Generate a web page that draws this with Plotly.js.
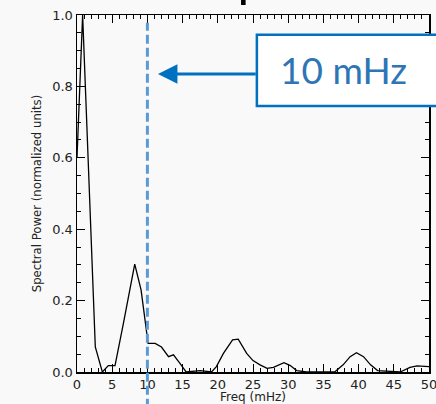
<!DOCTYPE html>
<html>
<head>
<meta charset="utf-8">
<script src="https://cdn.plot.ly/plotly-3.0.1.min.js"></script>
<style>html,body{margin:0;padding:0;background:#f9f9f9;}#chart{width:436px;height:404px;}</style>
</head>
<body>
<div id="chart"></div>
<script>
// Spectral power vs frequency
var freq = [0, 0.8, 2.6, 3.6, 4.45, 5.4, 6.6, 8.2, 9.1, 9.5, 10.1, 11.1, 12.0, 13.0, 13.7, 14.6, 15.5, 17.5, 19.1, 19.8, 20.8, 22.1, 22.9, 24.1, 25.0, 26.0, 27.0, 27.9, 29.4, 30.3, 31.2, 32.6, 36.6, 37.8, 38.8, 39.7, 40.7, 41.7, 42.7, 45.9, 47.3, 48.3, 49.4, 50];
var power = [0.6, 1.0, 0.07, 0.0, 0.018, 0.018, 0.137, 0.302, 0.23, 0.17, 0.08, 0.08, 0.07, 0.043, 0.048, 0.025, 0.0, 0.004, 0.0, 0.015, 0.052, 0.09, 0.092, 0.052, 0.032, 0.02, 0.01, 0.013, 0.026, 0.018, 0.004, 0.0, 0.0, 0.02, 0.043, 0.054, 0.043, 0.02, 0.004, 0.0, 0.013, 0.017, 0.015, 0.015];
var markerFreq = 10;
var markerLabel = '10 mHz';
var xTitle = 'Freq (mHz)';
var yTitle = 'Spectral Power (normalized units)';
var xTickVals = [0, 5, 10, 15, 20, 25, 30, 35, 40, 45, 50];
var yTickVals = [0, 0.2, 0.4, 0.6, 0.8, 1.0];
var yTickText = ['0.0', '0.2', '0.4', '0.6', '0.8', '1.0'];

var traces = [
  {x: freq, y: power, type: 'scatter', mode: 'lines',
   line: {color: '#000', width: 1.3}, hoverinfo: 'skip'},
  // empty trace to attach the mirrored (top/right) tick axes
  {x: [], y: [], xaxis: 'x2', yaxis: 'y2', type: 'scatter', mode: 'lines', hoverinfo: 'skip'}
];

var axFont = {family: 'DejaVu Sans, sans-serif', size: 13, color: '#222'};
function tickAxis(extra) {
  var a = {
    ticks: 'inside', ticklen: 8, tickwidth: 1, tickcolor: '#000',
    showline: true, linecolor: '#000', linewidth: 1.5,
    showgrid: false, zeroline: false, tickfont: axFont
  };
  for (var k in extra) a[k] = extra[k];
  return a;
}
var xMinor = {dtick: 1, ticks: 'inside', ticklen: 4, tickwidth: 1, tickcolor: '#000', showgrid: false};
var yMinor = {dtick: 0.05, ticks: 'inside', ticklen: 4, tickwidth: 1, tickcolor: '#000', showgrid: false};

var layout = {
  width: 436, height: 404,
  margin: {l: 77, r: 7, t: 15, b: 32},
  paper_bgcolor: '#f9f9f9', plot_bgcolor: '#f9f9f9',
  showlegend: false,
  xaxis: tickAxis({range: [0, 50], tickvals: xTickVals, minor: xMinor, ticklabeloverflow: 'allow'}),
  yaxis: tickAxis({range: [0, 1], tickvals: yTickVals, ticktext: yTickText, minor: yMinor,
    title: {text: yTitle, font: {family: 'DejaVu Sans, sans-serif', size: 11.7, color: '#222'}, standoff: 8}}),
  xaxis2: tickAxis({range: [0, 50], tickvals: xTickVals, minor: xMinor, overlaying: 'x', side: 'top',
    anchor: 'y2', showticklabels: false}),
  yaxis2: tickAxis({range: [0, 1], tickvals: yTickVals, minor: yMinor, overlaying: 'y', side: 'right',
    anchor: 'x2', showticklabels: false}),
  shapes: [
    {type: 'line', xref: 'x', yref: 'paper', x0: markerFreq, x1: markerFreq, y0: -0.1, y1: 0.978,
     line: {color: '#5B9BD5', width: 3, dash: '9px,4px'}, layer: 'above'},
    {type: 'rect', xref: 'paper', yref: 'paper', x0: 0.511, x1: 1.05, y0: 0.745, y1: 0.945,
     fillcolor: '#ffffff', line: {color: '#0070C0', width: 2.5}, layer: 'above'},
    {type: 'rect', xref: 'paper', yref: 'paper', x0: 0.466, x1: 0.479, y0: 1.028, y1: 1.06,
     fillcolor: '#000', line: {width: 0}, layer: 'above'}
  ],
  annotations: [
    {xref: 'x', yref: 'y', axref: 'x', ayref: 'y', x: 11.5, y: 0.835, ax: 25.6, ay: 0.835,
     text: '', showarrow: true, arrowhead: 2, arrowsize: 1.3, arrowwidth: 3, arrowcolor: '#0070C0'},
    {xref: 'paper', yref: 'paper', x: 0.572, y: 0.848, xanchor: 'left', yanchor: 'middle',
     text: markerLabel, showarrow: false,
     font: {family: 'Lato, Open Sans, sans-serif', size: 37, color: '#2E75B6'}},
    {xref: 'paper', yref: 'paper', x: 0.5, y: -0.069, xanchor: 'center', yanchor: 'middle',
     text: xTitle, showarrow: false,
     font: {family: 'DejaVu Sans, sans-serif', size: 12, color: '#222'}}
  ]
};

Plotly.newPlot('chart', traces, layout, {displayModeBar: false, staticPlot: true});
</script>
</body>
</html>
